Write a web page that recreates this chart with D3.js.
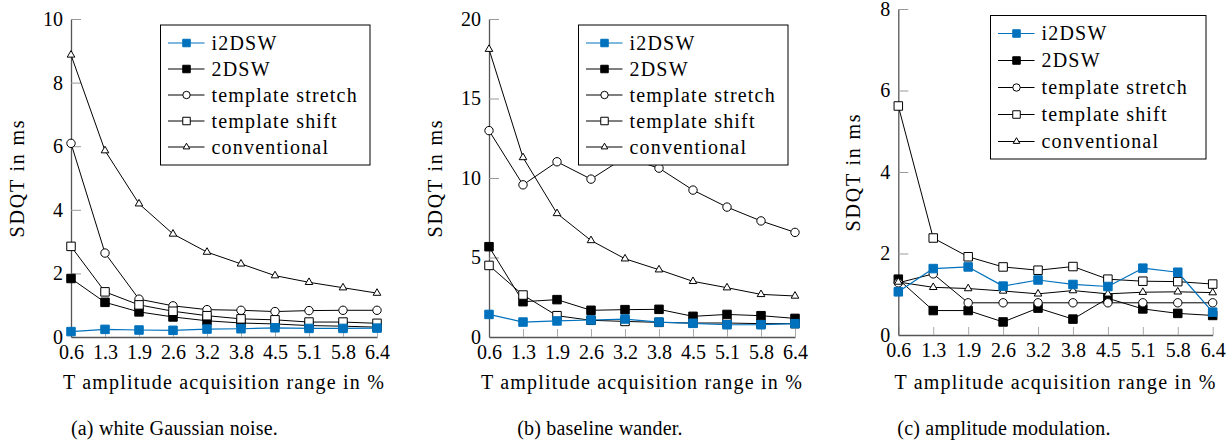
<!DOCTYPE html>
<html>
<head>
<meta charset="utf-8">
<script src="https://cdn.jsdelivr.net/npm/d3@7"></script>
<style>
  html, body { margin: 0; padding: 0; background: #fff; }
</style>
</head>
<body>
<svg id="chart" width="1232" height="443"></svg>
<script>
// ---------- data ----------
const categories = ["0.6", "1.3", "1.9", "2.6", "3.2", "3.8", "4.5", "5.1", "5.8", "6.4"];
const seriesNames = ["i2DSW", "2DSW", "template stretch", "template shift", "conventional"];
const xLabel = "T amplitude acquisition range in %";
const yLabel = "SDQT in ms";
const captions = ["(a) white Gaussian noise.", "(b) baseline wander.", "(c) amplitude modulation."];

// (a) white Gaussian noise
const aTicks = [0, 2, 4, 6, 8, 10];
const a_i2DSW   = [0.17, 0.24, 0.22, 0.21, 0.25, 0.26, 0.29, 0.27, 0.27, 0.28];
const a_2DSW    = [1.84, 1.09, 0.79, 0.63, 0.51, 0.44, 0.41, 0.36, 0.34, 0.31];
const a_stretch = [6.09, 2.64, 1.19, 0.98, 0.86, 0.84, 0.80, 0.83, 0.84, 0.84];
const a_shift   = [2.85, 1.42, 1.01, 0.81, 0.67, 0.57, 0.54, 0.47, 0.47, 0.43];
const a_conv    = [8.87, 5.86, 4.19, 3.24, 2.67, 2.30, 1.93, 1.72, 1.55, 1.38];

// (b) baseline wander
const bTicks = [0, 5, 10, 15, 20];
const b_i2DSW   = [1.42, 0.94, 1.01, 1.07, 1.13, 0.94, 0.86, 0.77, 0.77, 0.84];
const b_2DSW    = [5.68, 2.22, 2.35, 1.68, 1.72, 1.74, 1.30, 1.42, 1.34, 1.17];
const b_stretch = [12.98, 9.57, 11.02, 9.93, 11.3, 10.62, 9.24, 8.17, 7.30, 6.58];
const b_shift   = [4.50, 2.64, 1.34, 1.05, 0.98, 0.92, 0.88, 0.88, 0.84, 0.84];
const b_conv    = [18.1, 11.29, 7.77, 6.07, 4.92, 4.23, 3.50, 3.10, 2.68, 2.58];

// (c) amplitude modulation
const cTicks = [0, 2, 4, 6, 8];
const c_i2DSW   = [1.06, 1.63, 1.67, 1.20, 1.35, 1.24, 1.19, 1.64, 1.54, 0.56];
const c_2DSW    = [1.37, 0.60, 0.60, 0.32, 0.66, 0.39, 0.90, 0.64, 0.53, 0.48];
const c_stretch = [1.28, 1.50, 0.79, 0.79, 0.79, 0.79, 0.79, 0.79, 0.79, 0.79];
const c_shift   = [5.62, 2.38, 1.92, 1.67, 1.59, 1.68, 1.37, 1.32, 1.31, 1.25];
const c_conv    = [1.30, 1.17, 1.14, 1.08, 1.01, 1.09, 1.01, 1.05, 1.06, 1.04];

// ---------- styles ----------
const FONT = '"Liberation Serif"';
const BLUE = "#0072BD";
const styles = [
  { stroke: BLUE,   fill: BLUE,   shape: "square",   lw: 1.2 },
  { stroke: "#000", fill: "#000", shape: "square",   lw: 1.0 },
  { stroke: "#000", fill: "#fff", shape: "circle",   lw: 1.0 },
  { stroke: "#000", fill: "#fff", shape: "square",   lw: 1.0 },
  { stroke: "#000", fill: "#fff", shape: "triangle", lw: 1.0 }
];
// draw order: i2DSW last (on top)
const drawOrder = [1, 2, 3, 4, 0];

const panels = [
  { series: [a_i2DSW, a_2DSW, a_stretch, a_shift, a_conv], yMax: 10, ticks: aTicks,
    x0: 71, x1: 377, y0: 337, y1: 19,
    leg: { x: 160.5, y: 25, w: 209.5, h: 140, row0: 18, step: 26 },
    ylabX: 16.5, ylabY: 178, capX: 174.5 },
  { series: [b_i2DSW, b_2DSW, b_stretch, b_shift, b_conv], yMax: 20, ticks: bTicks,
    x0: 489, x1: 795, y0: 337, y1: 19,
    leg: { x: 578.5, y: 25, w: 209.5, h: 140, row0: 18, step: 26 },
    ylabX: 435, ylabY: 178, capX: 600 },
  { series: [c_i2DSW, c_2DSW, c_stretch, c_shift, c_conv], yMax: 8, ticks: cTicks,
    x0: 898.3, x1: 1212.7, y0: 335, y1: 9,
    leg: { x: 990.5, y: 15.5, w: 215.5, h: 143.5, row0: 18, step: 27 },
    ylabX: 853, ylabY: 172, capX: 1004 }
];

const svg = d3.select("#chart");

function symbolPath(shape, s) {
  if (shape === "square") return d3.symbol(d3.symbolSquare, s * s)();
  if (shape === "circle") return d3.symbol(d3.symbolCircle, Math.PI * (s / 2) * (s / 2))();
  return d3.symbol(d3.symbolTriangle, 0.433 * s * s)();
}
const markerSize = { square: 8.5, circle: 8.4, triangle: 7.6 };
const legMarkerSize = { square: 7.5, circle: 7.4, triangle: 6.6 };

function txt(sel) {
  return sel.attr("font-family", null).style("font-family", FONT)
    .attr("font-size", 20).attr("fill", "#000");
}

panels.forEach((p, pi) => {
  const g = svg.append("g");
  const x = d3.scalePoint().domain(categories).range([p.x0, p.x1]);
  const y = d3.scaleLinear().domain([0, p.yMax]).range([p.y0, p.y1]);

  // x axis
  const xa = g.append("g").attr("transform", `translate(0,${p.y0})`)
    .call(d3.axisBottom(x).tickSizeInner(-8).tickSizeOuter(0).tickPadding(8));
  xa.attr("font-family", null).attr("font-size", null);
  xa.select(".domain").attr("stroke", "#555").attr("stroke-width", 1.3);
  xa.selectAll(".tick line").attr("stroke", "#aaa").attr("stroke-width", 1);
  txt(xa.selectAll(".tick text"));

  // y axis
  const ya = g.append("g").attr("transform", `translate(${p.x0},0)`)
    .call(d3.axisLeft(y).tickValues(p.ticks).tickSizeInner(-10).tickSizeOuter(0).tickPadding(8)
      .tickFormat(d3.format("d")));
  ya.attr("font-family", null).attr("font-size", null);
  ya.select(".domain").attr("stroke", "#555").attr("stroke-width", 1.3);
  ya.selectAll(".tick line").attr("stroke", "#999").attr("stroke-width", 1)
    .filter(d => d === 0).remove();
  txt(ya.selectAll(".tick text"));

  // series
  drawOrder.forEach(si => {
    const st = styles[si];
    const vals = p.series[si];
    const line = d3.line().x((d, i) => x(categories[i])).y(d => y(d));
    g.append("path").datum(vals).attr("d", line)
      .attr("fill", "none").attr("stroke", st.stroke).attr("stroke-width", st.lw)
      .attr("stroke-linejoin", "round");
    g.selectAll(null).data(vals).enter().append("path")
      .attr("transform", (d, i) => `translate(${x(categories[i])},${y(d)})`)
      .attr("d", symbolPath(st.shape, markerSize[st.shape]))
      .attr("fill", st.fill).attr("stroke", st.stroke).attr("stroke-width", 1);
  });

  // legend
  const L = p.leg;
  const lg = g.append("g").attr("transform", `translate(${L.x},${L.y})`);
  lg.append("rect").attr("width", L.w).attr("height", L.h)
    .attr("fill", "#fff").attr("stroke", "#000").attr("stroke-width", 1);
  seriesNames.forEach((name, si) => {
    const st = styles[si];
    const ry = L.row0 + L.step * si;
    lg.append("line").attr("x1", 7.5).attr("x2", 44).attr("y1", ry).attr("y2", ry)
      .attr("stroke", st.stroke).attr("stroke-width", st.lw);
    lg.append("path").attr("transform", `translate(26,${ry})`)
      .attr("d", symbolPath(st.shape, legMarkerSize[st.shape]))
      .attr("fill", st.fill).attr("stroke", st.stroke).attr("stroke-width", 1);
    txt(lg.append("text")).attr("x", 51).attr("y", ry).attr("dy", "0.33em")
      .style("letter-spacing", "1.2px").text(name);
  });

  // axis labels
  txt(g.append("text"))
    .attr("transform", `translate(${p.ylabX},${p.ylabY}) rotate(-90)`)
    .attr("text-anchor", "middle").attr("dy", "0.35em")
    .style("letter-spacing", "1.8px").text(yLabel);
  txt(g.append("text")).attr("x", (p.x0 + p.x1) / 2).attr("y", 389)
    .attr("text-anchor", "middle").style("letter-spacing", "1.2px")
    .text(xLabel);
  txt(g.append("text")).attr("x", p.capX).attr("y", 435)
    .attr("text-anchor", "middle").style("letter-spacing", "0.2px")
    .text(captions[pi]);
});
</script>
</body>
</html>
